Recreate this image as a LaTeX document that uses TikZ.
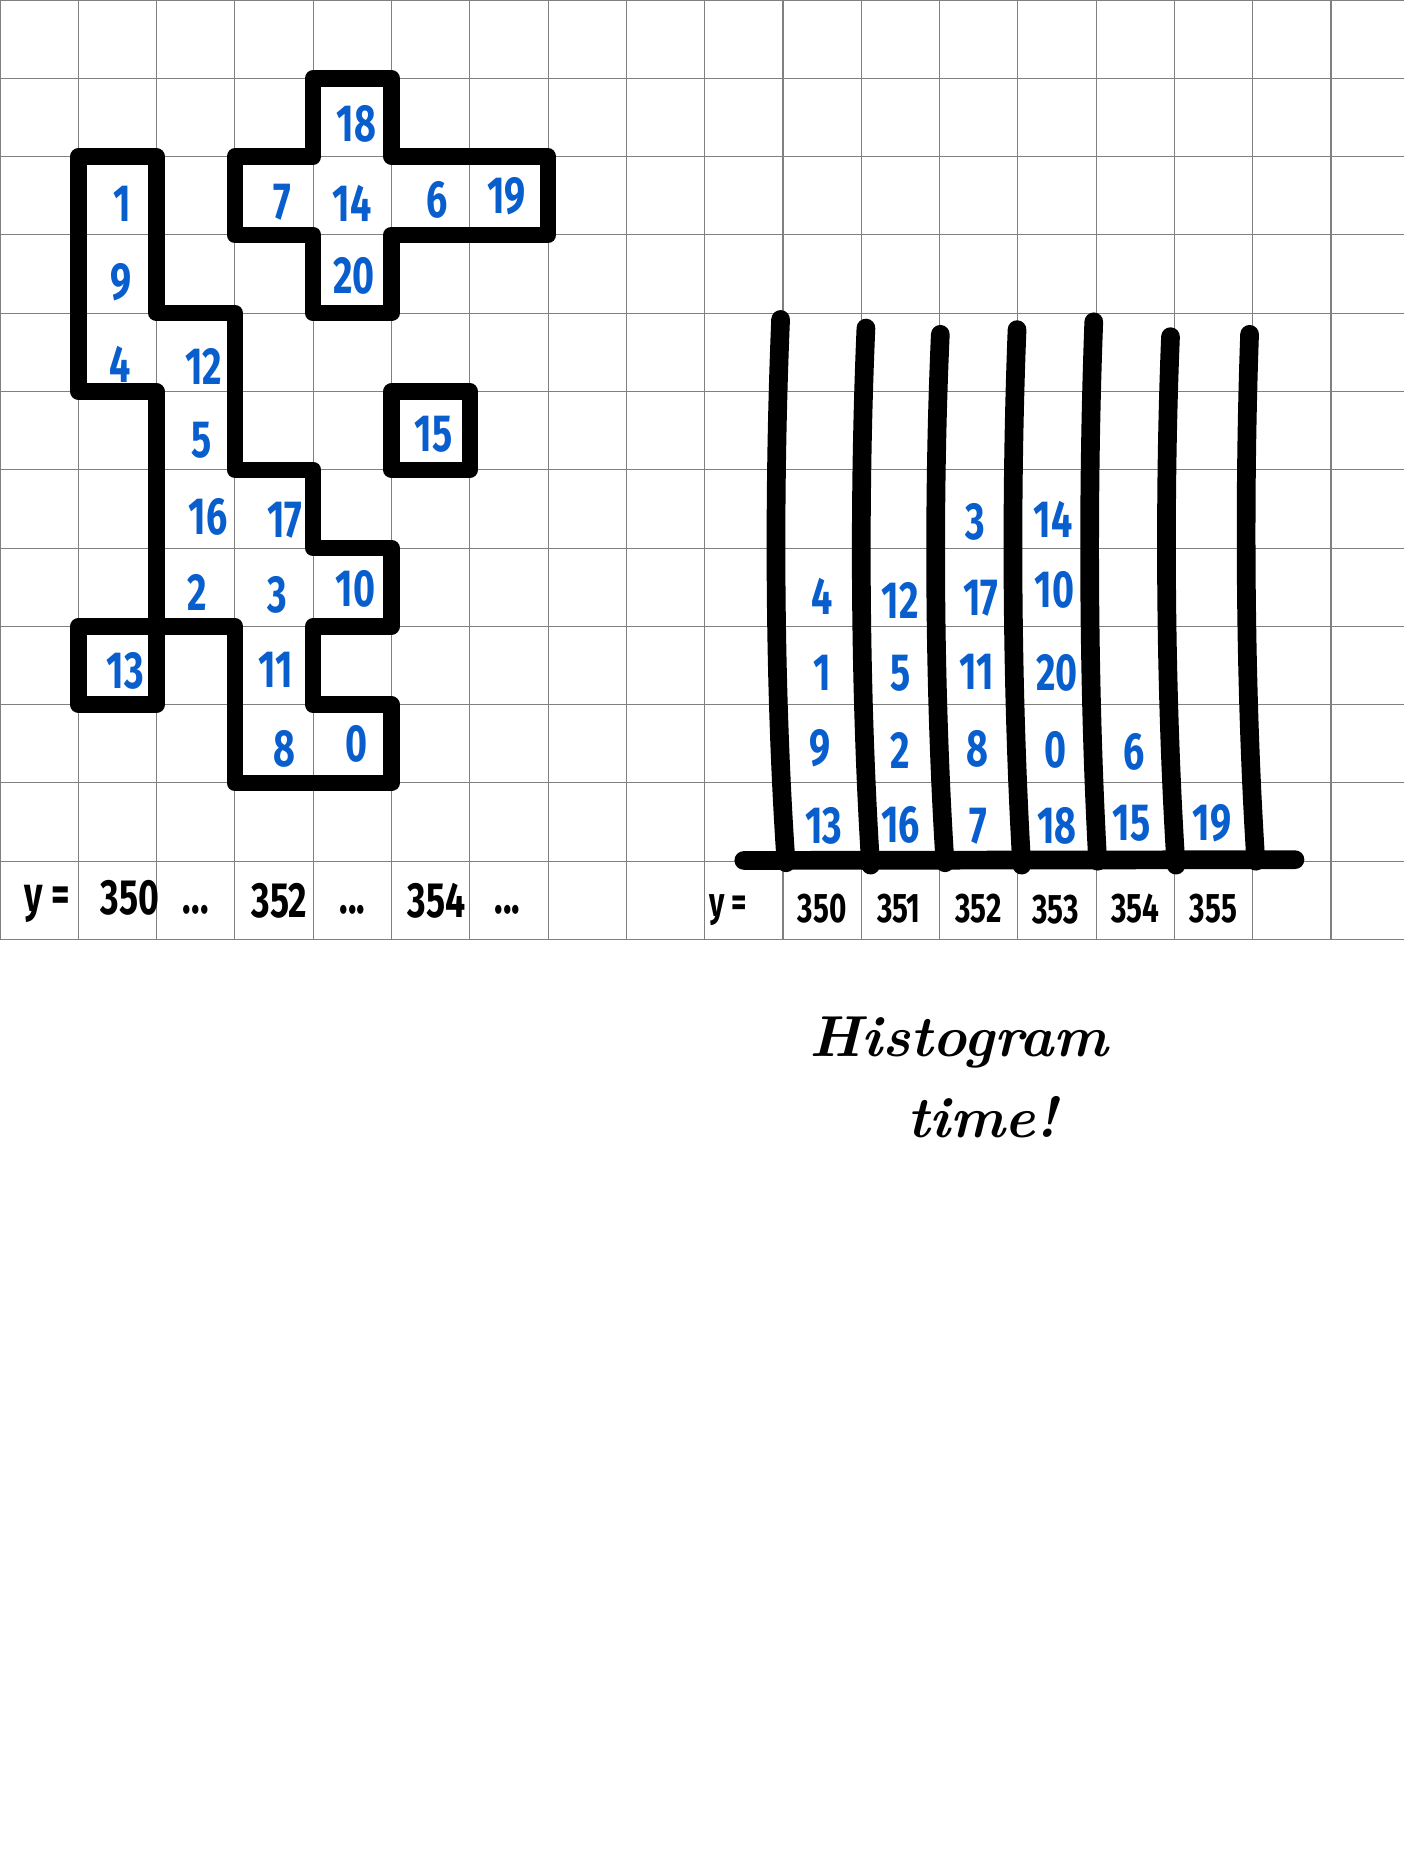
\documentclass[tikz,border=0pt]{standalone}
\usepackage{fontspec}
\newfontfamily\penfont[FakeStretch=0.72]{Fira Sans}
\definecolor{inkblue}{RGB}{8,94,204}
\definecolor{gridgray}{RGB}{128,128,128}

\begin{document}
\begin{tikzpicture}[
  gridline/.style={draw=gridgray, line width=0.4pt},
  outline/.style={line width=6pt, line join=round, line cap=round},
  bar/.style={line width=6.8pt, line cap=round},
  num/.style={text=inkblue, inner sep=0pt, font=\penfont\bfseries\fontsize{19}{20}\selectfont},
  ylabel/.style={inner sep=0pt, font=\penfont\bfseries\fontsize{18}{20}\selectfont},
  hlabel/.style={inner sep=0pt, font=\penfont\bfseries\fontsize{15}{16}\selectfont},
  note/.style={inner sep=0pt, anchor=base, font=\bfseries\itshape\fontsize{21}{24}\selectfont}
]
\useasboundingbox (0,0) rectangle (17.93,-23.91);
\draw[gridline] (0,-12) grid (17.93,0);

% clusters on the left
\draw[outline] (4,-1) -- (5,-1) -- (5,-2) -- (7,-2) -- (7,-3) -- (5,-3) -- (5,-4) -- (4,-4) -- (4,-3) -- (3,-3) -- (3,-2) -- (4,-2) -- cycle;
\draw[outline] (1,-2) -- (2,-2) -- (2,-4) -- (3,-4) -- (3,-6) -- (4,-6) -- (4,-7) -- (5,-7) -- (5,-8) -- (4,-8) -- (4,-9) -- (5,-9) -- (5,-10) -- (3,-10) -- (3,-8) -- (2,-8) -- (2,-5) -- (1,-5) -- cycle;
\draw[outline] (5,-5) rectangle (6,-6);
\draw[outline] (1,-8) rectangle (2,-9);

\node[num] at (4.55,-1.58) (n18) {18};
\node[num] at (3.60,-2.58) (n7) {7};
\node[num] at (4.50,-2.60) (n14) {14};
\node[num] at (5.58,-2.55) (n6) {6};
\node[num] at (6.47,-2.50) (n19) {19};
\node[num] at (1.56,-2.60) (n1) {1};
\node[num] at (1.54,-3.60) (n9) {9};
\node[num] at (4.52,-3.53) (n20) {20};
\node[num] at (1.54,-4.65) (n4) {4};
\node[num] at (2.60,-4.68) (n12) {12};
\node[num] at (2.58,-5.62) (n5) {5};
\node[num] at (5.54,-5.55) (n15) {15};
\node[num] at (2.66,-6.60) (n16) {16};
\node[num] at (3.64,-6.64) (n17) {17};
\node[num] at (2.52,-7.57) (n2) {2};
\node[num] at (3.54,-7.60) (n3) {3};
\node[num] at (4.54,-7.52) (n10) {10};
\node[num] at (1.60,-8.57) (n13) {13};
\node[num] at (3.52,-8.55) (n11) {11};
\node[num] at (3.63,-9.57) (n8) {8};
\node[num] at (4.55,-9.50) (n0) {0};

\node[ylabel] at (0.60,-11.55) (ly) {y =};
\node[ylabel] at (1.66,-11.47) (l350) {350};
\node[ylabel] at (2.50,-11.62) (ldotsa) {...};
\node[ylabel] at (3.57,-11.50) (l352) {352};
\node[ylabel] at (4.50,-11.62) (ldotsb) {...};
\node[ylabel] at (5.58,-11.50) (l354) {354};
\node[ylabel] at (6.48,-11.62) (ldotsc) {...};

% histogram on the right
\draw[bar] (9.97,-4.08) .. controls (9.87,-6.5) and (9.90,-9) .. (10.04,-11.02);
\draw[bar] (11.06,-4.19) .. controls (10.96,-6.5) and (10.99,-9) .. (11.12,-11.05);
\draw[bar] (12.01,-4.27) .. controls (11.91,-6.5) and (11.94,-9) .. (12.07,-11.02);
\draw[bar] (12.99,-4.21) .. controls (12.90,-6.5) and (12.93,-9) .. (13.05,-11.05);
\draw[bar] (13.97,-4.11) .. controls (13.88,-6.5) and (13.91,-9) .. (14.02,-11.0);
\draw[bar] (14.95,-4.30) .. controls (14.86,-6.5) and (14.89,-9) .. (15.02,-11.05);
\draw[bar] (15.96,-4.27) .. controls (15.88,-6.5) and (15.91,-9) .. (16.04,-11.0);
\draw[bar] (9.50,-10.99) -- (16.54,-10.98);

\node[num] at (10.52,-10.55) (h13) {13};
\node[num] at (10.48,-9.56) (h9) {9};
\node[num] at (10.50,-8.60) (h1) {1};
\node[num] at (10.50,-7.62) (h4) {4};
\node[num] at (11.50,-10.53) (h16) {16};
\node[num] at (11.50,-9.58) (h2) {2};
\node[num] at (11.50,-8.60) (h5) {5};
\node[num] at (11.50,-7.67) (h12) {12};
\node[num] at (12.50,-10.55) (h7) {7};
\node[num] at (12.48,-9.56) (h8) {8};
\node[num] at (12.48,-8.58) (h11) {11};
\node[num] at (12.53,-7.64) (h17) {17};
\node[num] at (12.46,-6.66) (h3) {3};
\node[num] at (13.50,-10.55) (h18) {18};
\node[num] at (13.48,-9.58) (h0) {0};
\node[num] at (13.50,-8.60) (h20) {20};
\node[num] at (13.47,-7.54) (h10) {10};
\node[num] at (13.45,-6.63) (h14) {14};
\node[num] at (14.45,-10.52) (h15) {15};
\node[num] at (14.48,-9.60) (h6) {6};
\node[num] at (15.48,-10.52) (h19) {19};

\node[hlabel] at (9.30,-11.62) (ry) {y =};
\node[hlabel] at (10.50,-11.60) (r350) {350};
\node[hlabel] at (11.48,-11.60) (r351) {351};
\node[hlabel] at (12.50,-11.60) (r352) {352};
\node[hlabel] at (13.48,-11.62) (r353) {353};
\node[hlabel] at (14.50,-11.60) (r354) {354};
\node[hlabel] at (15.50,-11.60) (r355) {355};

\node[note] at (12.25,-13.50) (title) {Histogram};
\node[note] at (12.55,-14.53) (subtitle) {time!};
\end{tikzpicture}
\end{document}
